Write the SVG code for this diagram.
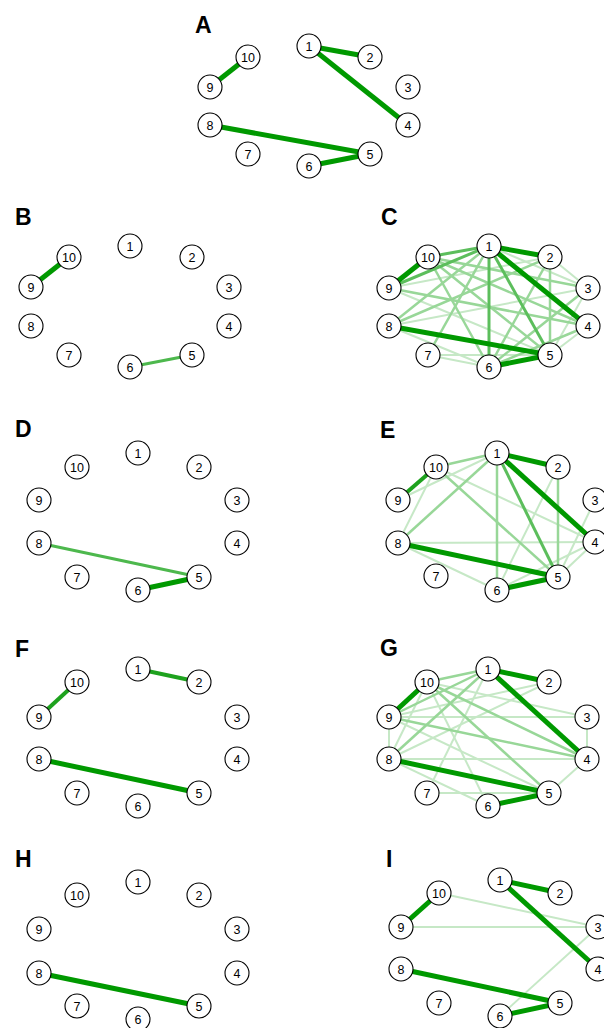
<svg xmlns="http://www.w3.org/2000/svg" width="604" height="1028" viewBox="0 0 604 1028">
<style>
.bg{fill:#fff}
.n circle{fill:#fff;stroke:#000;stroke-width:1.1}
.n text{font-family:"Liberation Sans",Arial,sans-serif;font-size:12.5px;text-anchor:middle;fill:#000}
.lbl{font-family:"Liberation Sans",Arial,sans-serif;font-size:23px;font-weight:bold;fill:#000}
line{stroke-linecap:butt}
.e5{stroke:#009900;stroke-width:5}
.e4{stroke:#1ea21e;stroke-width:4}
.e3{stroke:#5cbe5c;stroke-width:3}
.e2{stroke:#98d798;stroke-width:2.5}
.e1{stroke:#c6e8c6;stroke-width:2}
</style>
<rect class="bg" width="604" height="1028"/>
<g id="labels">
<text class="lbl" x="195" y="33">A</text>
<text class="lbl" x="15" y="225">B</text>
<text class="lbl" x="381" y="225">C</text>
<text class="lbl" x="15" y="437">D</text>
<text class="lbl" x="380" y="438">E</text>
<text class="lbl" x="15" y="657">F</text>
<text class="lbl" x="380" y="656">G</text>
<text class="lbl" x="15" y="867">H</text>
<text class="lbl" x="386" y="867">I</text>
</g>
<g id="connectors">
<!-- A -->
<line class="e5" x1="309" y1="46" x2="370" y2="57"/>
<line class="e5" x1="309" y1="46" x2="408" y2="125"/>
<line class="e5" x1="210" y1="87" x2="248" y2="57"/>
<line class="e5" x1="210" y1="125" x2="370" y2="154"/>
<line class="e5" x1="309" y1="166" x2="370" y2="154"/>
<!-- B -->
<line class="e5" x1="31" y1="287" x2="69" y2="257"/>
<line class="e3" x1="130" y1="367" x2="192" y2="355" style="stroke:#4db84d"/>
<!-- C -->
<line class="e1" x1="550" y1="257" x2="588" y2="288"/>
<line class="e1" x1="588" y1="288" x2="550" y2="355"/>
<line class="e1" x1="588" y1="326" x2="550" y2="355"/>
<line class="e1" x1="428" y1="355" x2="550" y2="355"/>
<line class="e1" x1="428" y1="355" x2="489" y2="367"/>
<line class="e1" x1="389" y1="326" x2="489" y2="367"/>
<line class="e1" x1="389" y1="326" x2="588" y2="288"/>
<line class="e1" x1="389" y1="288" x2="550" y2="257"/>
<line class="e1" x1="489" y1="246" x2="588" y2="288"/>
<line class="e1" x1="389" y1="288" x2="550" y2="355"/>
<line class="e2" x1="428" y1="257" x2="588" y2="326"/>
<line class="e2" x1="428" y1="257" x2="550" y2="355"/>
<line class="e2" x1="428" y1="257" x2="588" y2="288"/>
<line class="e2" x1="550" y1="257" x2="550" y2="355"/>
<line class="e2" x1="550" y1="257" x2="489" y2="367"/>
<line class="e2" x1="389" y1="326" x2="550" y2="257"/>
<line class="e2" x1="389" y1="288" x2="588" y2="326"/>
<line class="e2" x1="588" y1="326" x2="489" y2="367"/>
<line class="e2" x1="588" y1="288" x2="489" y2="367"/>
<line class="e2" x1="489" y1="246" x2="389" y2="326"/>
<line class="e2" x1="489" y1="246" x2="428" y2="355"/>
<line class="e2" x1="428" y1="257" x2="489" y2="367"/>
<line class="e3" x1="489" y1="246" x2="489" y2="367"/>
<line class="e3" x1="489" y1="246" x2="550" y2="355"/>
<line class="e3" x1="489" y1="246" x2="389" y2="288"/>
<line class="e3" x1="489" y1="246" x2="428" y2="257"/>
<line class="e5" x1="489" y1="246" x2="550" y2="257"/>
<line class="e5" x1="489" y1="246" x2="588" y2="326"/>
<line class="e5" x1="389" y1="288" x2="428" y2="257"/>
<line class="e5" x1="389" y1="326" x2="550" y2="355"/>
<line class="e5" x1="489" y1="367" x2="550" y2="355"/>
<!-- D -->
<line class="e3" x1="39" y1="543" x2="199" y2="577" style="stroke:#4db84d"/>
<line class="e5" x1="138" y1="590" x2="199" y2="577"/>
<!-- E -->
<line class="e1" x1="436" y1="467" x2="398" y2="543"/>
<line class="e1" x1="398" y1="500" x2="497" y2="453"/>
<line class="e1" x1="436" y1="467" x2="595" y2="542"/>
<line class="e1" x1="558" y1="467" x2="497" y2="590"/>
<line class="e1" x1="398" y1="543" x2="595" y2="542"/>
<line class="e1" x1="595" y1="500" x2="558" y2="577"/>
<line class="e1" x1="595" y1="542" x2="558" y2="577"/>
<line class="e1" x1="595" y1="542" x2="497" y2="590"/>
<line class="e1" x1="398" y1="543" x2="497" y2="590"/>
<line class="e2" x1="497" y1="453" x2="497" y2="590"/>
<line class="e2" x1="497" y1="453" x2="436" y2="467"/>
<line class="e2" x1="497" y1="453" x2="398" y2="543"/>
<line class="e2" x1="558" y1="467" x2="558" y2="577"/>
<line class="e2" x1="436" y1="467" x2="558" y2="577"/>
<line class="e3" x1="497" y1="453" x2="558" y2="577"/>
<line class="e4" x1="398" y1="500" x2="436" y2="467"/>
<line class="e5" x1="497" y1="453" x2="558" y2="467"/>
<line class="e5" x1="497" y1="453" x2="595" y2="542"/>
<line class="e5" x1="398" y1="543" x2="558" y2="577"/>
<line class="e5" x1="497" y1="590" x2="558" y2="577"/>
<!-- F -->
<line class="e4" x1="138" y1="669" x2="199" y2="682"/>
<line class="e4" x1="39" y1="717" x2="77" y2="682"/>
<line class="e5" x1="39" y1="759" x2="199" y2="793"/>
<!-- G -->
<line class="e1" x1="427" y1="793" x2="488" y2="669"/>
<line class="e1" x1="389" y1="759" x2="549" y2="682"/>
<line class="e1" x1="389" y1="717" x2="549" y2="682"/>
<line class="e1" x1="389" y1="717" x2="587" y2="717"/>
<line class="e1" x1="427" y1="682" x2="587" y2="717"/>
<line class="e1" x1="427" y1="682" x2="488" y2="806"/>
<line class="e1" x1="389" y1="717" x2="549" y2="793"/>
<line class="e1" x1="389" y1="759" x2="587" y2="759"/>
<line class="e1" x1="389" y1="717" x2="389" y2="759"/>
<line class="e1" x1="389" y1="759" x2="427" y2="682"/>
<line class="e1" x1="427" y1="793" x2="549" y2="793"/>
<line class="e1" x1="389" y1="759" x2="488" y2="806"/>
<line class="e1" x1="587" y1="717" x2="587" y2="759"/>
<line class="e1" x1="587" y1="759" x2="549" y2="793"/>
<line class="e2" x1="427" y1="682" x2="488" y2="669"/>
<line class="e2" x1="389" y1="717" x2="488" y2="669"/>
<line class="e2" x1="389" y1="759" x2="488" y2="669"/>
<line class="e2" x1="427" y1="682" x2="549" y2="793"/>
<line class="e2" x1="427" y1="682" x2="587" y2="759"/>
<line class="e2" x1="389" y1="717" x2="587" y2="759"/>
<line class="e5" x1="488" y1="669" x2="549" y2="682"/>
<line class="e5" x1="488" y1="669" x2="587" y2="759"/>
<line class="e5" x1="389" y1="717" x2="427" y2="682"/>
<line class="e5" x1="389" y1="759" x2="549" y2="793"/>
<line class="e5" x1="488" y1="806" x2="549" y2="793"/>
<!-- H -->
<line class="e5" x1="39" y1="973" x2="199" y2="1006"/>
<!-- I -->
<line class="e1" x1="439" y1="893" x2="598" y2="927"/>
<line class="e1" x1="401" y1="927" x2="598" y2="927"/>
<line class="e1" x1="500" y1="1016" x2="598" y2="927"/>
<line class="e5" x1="500" y1="880" x2="560" y2="893"/>
<line class="e5" x1="500" y1="880" x2="598" y2="969"/>
<line class="e5" x1="401" y1="927" x2="439" y2="893"/>
<line class="e5" x1="401" y1="969" x2="560" y2="1003"/>
<line class="e5" x1="500" y1="1016" x2="560" y2="1003"/>
</g>
<g id="panelA">
<g id="A1" class="n"><circle cx="309" cy="46" r="12"/><text x="309" y="50.5">1</text></g>
<g id="A2" class="n"><circle cx="370" cy="57" r="12"/><text x="370" y="61.5">2</text></g>
<g id="A3" class="n"><circle cx="408" cy="87" r="12"/><text x="408" y="91.5">3</text></g>
<g id="A4" class="n"><circle cx="408" cy="125" r="12"/><text x="408" y="129.5">4</text></g>
<g id="A5" class="n"><circle cx="370" cy="154" r="12"/><text x="370" y="158.5">5</text></g>
<g id="A6" class="n"><circle cx="309" cy="166" r="12"/><text x="309" y="170.5">6</text></g>
<g id="A7" class="n"><circle cx="248" cy="154" r="12"/><text x="248" y="158.5">7</text></g>
<g id="A8" class="n"><circle cx="210" cy="125" r="12"/><text x="210" y="129.5">8</text></g>
<g id="A9" class="n"><circle cx="210" cy="87" r="12"/><text x="210" y="91.5">9</text></g>
<g id="A10" class="n"><circle cx="248" cy="57" r="12"/><text x="248" y="61.5">10</text></g>
</g>
<g id="panelB">
<g id="B1" class="n"><circle cx="130" cy="246" r="12"/><text x="130" y="250.5">1</text></g>
<g id="B2" class="n"><circle cx="192" cy="257" r="12"/><text x="192" y="261.5">2</text></g>
<g id="B3" class="n"><circle cx="229" cy="287" r="12"/><text x="229" y="291.5">3</text></g>
<g id="B4" class="n"><circle cx="229" cy="326" r="12"/><text x="229" y="330.5">4</text></g>
<g id="B5" class="n"><circle cx="192" cy="355" r="12"/><text x="192" y="359.5">5</text></g>
<g id="B6" class="n"><circle cx="130" cy="367" r="12"/><text x="130" y="371.5">6</text></g>
<g id="B7" class="n"><circle cx="69" cy="355" r="12"/><text x="69" y="359.5">7</text></g>
<g id="B8" class="n"><circle cx="31" cy="326" r="12"/><text x="31" y="330.5">8</text></g>
<g id="B9" class="n"><circle cx="31" cy="287" r="12"/><text x="31" y="291.5">9</text></g>
<g id="B10" class="n"><circle cx="69" cy="257" r="12"/><text x="69" y="261.5">10</text></g>
</g>
<g id="panelC">
<g id="C1" class="n"><circle cx="489" cy="246" r="12"/><text x="489" y="250.5">1</text></g>
<g id="C2" class="n"><circle cx="550" cy="257" r="12"/><text x="550" y="261.5">2</text></g>
<g id="C3" class="n"><circle cx="588" cy="288" r="12"/><text x="588" y="292.5">3</text></g>
<g id="C4" class="n"><circle cx="588" cy="326" r="12"/><text x="588" y="330.5">4</text></g>
<g id="C5" class="n"><circle cx="550" cy="355" r="12"/><text x="550" y="359.5">5</text></g>
<g id="C6" class="n"><circle cx="489" cy="367" r="12"/><text x="489" y="371.5">6</text></g>
<g id="C7" class="n"><circle cx="428" cy="355" r="12"/><text x="428" y="359.5">7</text></g>
<g id="C8" class="n"><circle cx="389" cy="326" r="12"/><text x="389" y="330.5">8</text></g>
<g id="C9" class="n"><circle cx="389" cy="288" r="12"/><text x="389" y="292.5">9</text></g>
<g id="C10" class="n"><circle cx="428" cy="257" r="12"/><text x="428" y="261.5">10</text></g>
</g>
<g id="panelD">
<g id="D1" class="n"><circle cx="138" cy="453" r="12"/><text x="138" y="457.5">1</text></g>
<g id="D2" class="n"><circle cx="199" cy="467" r="12"/><text x="199" y="471.5">2</text></g>
<g id="D3" class="n"><circle cx="237" cy="500" r="12"/><text x="237" y="504.5">3</text></g>
<g id="D4" class="n"><circle cx="237" cy="543" r="12"/><text x="237" y="547.5">4</text></g>
<g id="D5" class="n"><circle cx="199" cy="577" r="12"/><text x="199" y="581.5">5</text></g>
<g id="D6" class="n"><circle cx="138" cy="590" r="12"/><text x="138" y="594.5">6</text></g>
<g id="D7" class="n"><circle cx="77" cy="577" r="12"/><text x="77" y="581.5">7</text></g>
<g id="D8" class="n"><circle cx="39" cy="543" r="12"/><text x="39" y="547.5">8</text></g>
<g id="D9" class="n"><circle cx="39" cy="500" r="12"/><text x="39" y="504.5">9</text></g>
<g id="D10" class="n"><circle cx="77" cy="467" r="12"/><text x="77" y="471.5">10</text></g>
</g>
<g id="panelE">
<g id="E1" class="n"><circle cx="497" cy="453" r="12"/><text x="497" y="457.5">1</text></g>
<g id="E2" class="n"><circle cx="558" cy="467" r="12"/><text x="558" y="471.5">2</text></g>
<g id="E3" class="n"><circle cx="595" cy="500" r="12"/><text x="595" y="504.5">3</text></g>
<g id="E4" class="n"><circle cx="595" cy="542" r="12"/><text x="595" y="546.5">4</text></g>
<g id="E5" class="n"><circle cx="558" cy="577" r="12"/><text x="558" y="581.5">5</text></g>
<g id="E6" class="n"><circle cx="497" cy="590" r="12"/><text x="497" y="594.5">6</text></g>
<g id="E7" class="n"><circle cx="436" cy="576" r="12"/><text x="436" y="580.5">7</text></g>
<g id="E8" class="n"><circle cx="398" cy="543" r="12"/><text x="398" y="547.5">8</text></g>
<g id="E9" class="n"><circle cx="398" cy="500" r="12"/><text x="398" y="504.5">9</text></g>
<g id="E10" class="n"><circle cx="436" cy="467" r="12"/><text x="436" y="471.5">10</text></g>
</g>
<g id="panelF">
<g id="F1" class="n"><circle cx="138" cy="669" r="12"/><text x="138" y="673.5">1</text></g>
<g id="F2" class="n"><circle cx="199" cy="682" r="12"/><text x="199" y="686.5">2</text></g>
<g id="F3" class="n"><circle cx="237" cy="717" r="12"/><text x="237" y="721.5">3</text></g>
<g id="F4" class="n"><circle cx="237" cy="759" r="12"/><text x="237" y="763.5">4</text></g>
<g id="F5" class="n"><circle cx="199" cy="793" r="12"/><text x="199" y="797.5">5</text></g>
<g id="F6" class="n"><circle cx="138" cy="806" r="12"/><text x="138" y="810.5">6</text></g>
<g id="F7" class="n"><circle cx="77" cy="793" r="12"/><text x="77" y="797.5">7</text></g>
<g id="F8" class="n"><circle cx="39" cy="759" r="12"/><text x="39" y="763.5">8</text></g>
<g id="F9" class="n"><circle cx="39" cy="717" r="12"/><text x="39" y="721.5">9</text></g>
<g id="F10" class="n"><circle cx="77" cy="682" r="12"/><text x="77" y="686.5">10</text></g>
</g>
<g id="panelG">
<g id="G1" class="n"><circle cx="488" cy="669" r="12"/><text x="488" y="673.5">1</text></g>
<g id="G2" class="n"><circle cx="549" cy="682" r="12"/><text x="549" y="686.5">2</text></g>
<g id="G3" class="n"><circle cx="587" cy="717" r="12"/><text x="587" y="721.5">3</text></g>
<g id="G4" class="n"><circle cx="587" cy="759" r="12"/><text x="587" y="763.5">4</text></g>
<g id="G5" class="n"><circle cx="549" cy="793" r="12"/><text x="549" y="797.5">5</text></g>
<g id="G6" class="n"><circle cx="488" cy="806" r="12"/><text x="488" y="810.5">6</text></g>
<g id="G7" class="n"><circle cx="427" cy="793" r="12"/><text x="427" y="797.5">7</text></g>
<g id="G8" class="n"><circle cx="389" cy="759" r="12"/><text x="389" y="763.5">8</text></g>
<g id="G9" class="n"><circle cx="389" cy="717" r="12"/><text x="389" y="721.5">9</text></g>
<g id="G10" class="n"><circle cx="427" cy="682" r="12"/><text x="427" y="686.5">10</text></g>
</g>
<g id="panelH">
<g id="H1" class="n"><circle cx="138" cy="882" r="12"/><text x="138" y="886.5">1</text></g>
<g id="H2" class="n"><circle cx="199" cy="895" r="12"/><text x="199" y="899.5">2</text></g>
<g id="H3" class="n"><circle cx="237" cy="929" r="12"/><text x="237" y="933.5">3</text></g>
<g id="H4" class="n"><circle cx="237" cy="973" r="12"/><text x="237" y="977.5">4</text></g>
<g id="H5" class="n"><circle cx="199" cy="1006" r="12"/><text x="199" y="1010.5">5</text></g>
<g id="H6" class="n"><circle cx="138" cy="1019" r="12"/><text x="138" y="1023.5">6</text></g>
<g id="H7" class="n"><circle cx="77" cy="1006" r="12"/><text x="77" y="1010.5">7</text></g>
<g id="H8" class="n"><circle cx="39" cy="973" r="12"/><text x="39" y="977.5">8</text></g>
<g id="H9" class="n"><circle cx="39" cy="929" r="12"/><text x="39" y="933.5">9</text></g>
<g id="H10" class="n"><circle cx="77" cy="895" r="12"/><text x="77" y="899.5">10</text></g>
</g>
<g id="panelI">
<g id="I1" class="n"><circle cx="500" cy="880" r="12"/><text x="500" y="884.5">1</text></g>
<g id="I2" class="n"><circle cx="560" cy="893" r="12"/><text x="560" y="897.5">2</text></g>
<g id="I3" class="n"><circle cx="598" cy="927" r="12"/><text x="598" y="931.5">3</text></g>
<g id="I4" class="n"><circle cx="598" cy="969" r="12"/><text x="598" y="973.5">4</text></g>
<g id="I5" class="n"><circle cx="560" cy="1003" r="12"/><text x="560" y="1007.5">5</text></g>
<g id="I6" class="n"><circle cx="500" cy="1016" r="12"/><text x="500" y="1020.5">6</text></g>
<g id="I7" class="n"><circle cx="439" cy="1003" r="12"/><text x="439" y="1007.5">7</text></g>
<g id="I8" class="n"><circle cx="401" cy="969" r="12"/><text x="401" y="973.5">8</text></g>
<g id="I9" class="n"><circle cx="401" cy="927" r="12"/><text x="401" y="931.5">9</text></g>
<g id="I10" class="n"><circle cx="439" cy="893" r="12"/><text x="439" y="897.5">10</text></g>
</g>
</svg>
